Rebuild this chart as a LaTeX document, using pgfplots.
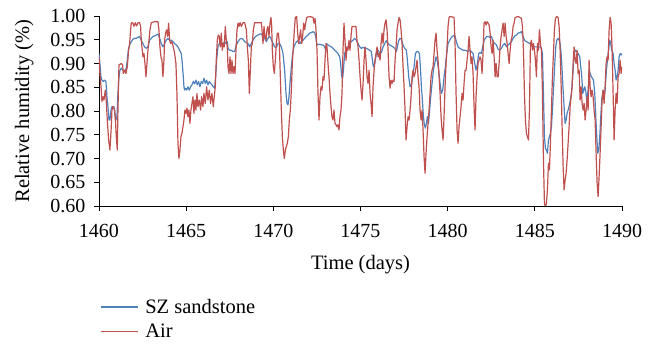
\documentclass[border=0pt]{standalone}
\usepackage{fontspec}
\setmainfont{Liberation Serif}
\usepackage{pgfplots}
\pgfplotsset{compat=1.18}
\usepackage{pgfplotstable}
\definecolor{szblue}{HTML}{4F81BD}
\definecolor{airred}{HTML}{C0504D}

\pgfplotstableread{
x y
1460.000 0.914
1460.036 0.886
1460.131 0.844
1460.169 0.820
1460.227 0.830
1460.284 0.823
1460.361 0.844
1460.418 0.820
1460.475 0.781
1460.552 0.739
1460.628 0.718
1460.705 0.767
1460.743 0.802
1460.800 0.809
1460.896 0.802
1460.953 0.774
1460.992 0.746
1461.049 0.718
1461.087 0.802
1461.145 0.897
1461.278 0.900
1461.355 0.897
1461.393 0.879
1461.470 0.886
1461.546 0.879
1461.623 0.893
1461.699 0.928
1461.756 0.942
1461.814 0.971
1461.852 0.985
1461.890 0.986
1461.948 0.985
1462.005 0.978
1462.081 0.986
1462.158 0.979
1462.234 0.986
1462.330 0.986
1462.387 0.978
1462.426 0.949
1462.483 0.928
1462.521 0.914
1462.579 0.921
1462.636 0.900
1462.693 0.872
1462.751 0.900
1462.808 0.928
1462.865 0.949
1462.923 0.971
1462.999 0.986
1463.190 0.988
1463.382 0.988
1463.439 0.971
1463.496 0.935
1463.554 0.914
1463.611 0.907
1463.668 0.872
1463.726 0.907
1463.764 0.949
1463.821 0.964
1463.879 0.971
1463.936 0.957
1463.993 0.985
1464.051 0.949
1464.108 0.942
1464.185 0.946
1464.261 0.935
1464.338 0.921
1464.414 0.900
1464.471 0.837
1464.529 0.732
1464.586 0.700
1464.644 0.718
1464.701 0.746
1464.758 0.753
1464.816 0.767
1464.873 0.781
1464.930 0.802
1464.988 0.795
1465.045 0.806
1465.102 0.788
1465.160 0.802
1465.217 0.774
1465.274 0.802
1465.332 0.816
1465.389 0.830
1465.447 0.795
1465.504 0.823
1465.561 0.802
1465.619 0.837
1465.676 0.809
1465.752 0.823
1465.829 0.802
1465.886 0.830
1465.963 0.809
1466.020 0.837
1466.097 0.816
1466.173 0.851
1466.250 0.823
1466.326 0.844
1466.403 0.816
1466.479 0.837
1466.556 0.809
1466.613 0.830
1466.670 0.851
1466.728 0.907
1466.785 0.949
1466.842 0.960
1466.900 0.957
1466.957 0.935
1467.014 0.964
1467.072 0.928
1467.129 0.942
1467.186 0.935
1467.244 0.978
1467.301 0.949
1467.359 0.935
1467.400 0.893
1467.457 0.879
1467.515 0.914
1467.572 0.879
1467.629 0.907
1467.687 0.879
1467.744 0.893
1467.802 0.879
1467.859 0.928
1467.916 0.971
1467.974 0.985
1468.031 0.978
1468.088 0.986
1468.165 0.978
1468.260 0.986
1468.356 0.986
1468.452 0.971
1468.509 0.935
1468.566 0.907
1468.624 0.837
1468.681 0.886
1468.738 0.935
1468.796 0.942
1468.853 0.971
1468.930 0.986
1469.121 0.986
1469.312 0.986
1469.350 0.971
1469.408 0.942
1469.465 0.978
1469.522 0.957
1469.580 0.949
1469.637 0.971
1469.694 0.978
1469.752 0.957
1469.809 0.985
1469.866 0.997
1469.905 0.978
1469.943 0.928
1470.000 0.893
1470.058 0.879
1470.115 0.907
1470.172 0.942
1470.230 0.964
1470.287 0.964
1470.345 0.942
1470.402 0.872
1470.459 0.802
1470.517 0.746
1470.574 0.718
1470.631 0.700
1470.689 0.718
1470.746 0.725
1470.803 0.732
1470.861 0.746
1470.918 0.781
1470.975 0.802
1471.033 0.844
1471.090 0.900
1471.148 0.935
1471.205 0.971
1471.262 0.997
1471.339 0.999
1471.396 0.964
1471.453 0.942
1471.511 0.957
1471.568 0.971
1471.626 0.942
1471.683 0.957
1471.740 0.985
1471.798 0.971
1471.855 0.985
1471.912 0.997
1472.084 0.999
1472.276 0.997
1472.333 0.985
1472.390 0.995
1472.448 0.971
1472.505 0.928
1472.562 0.837
1472.620 0.781
1472.677 0.830
1472.734 0.851
1472.792 0.844
1472.849 0.872
1472.907 0.865
1472.964 0.907
1473.021 0.942
1473.079 0.935
1473.136 0.900
1473.193 0.872
1473.251 0.837
1473.308 0.809
1473.365 0.788
1473.423 0.781
1473.480 0.802
1473.538 0.774
1473.595 0.771
1473.652 0.767
1473.710 0.771
1473.767 0.760
1473.824 0.788
1473.882 0.802
1473.939 0.837
1473.996 0.928
1474.054 0.985
1474.111 0.949
1474.168 0.907
1474.226 0.935
1474.283 0.928
1474.341 0.949
1474.398 0.928
1474.455 0.957
1474.513 0.978
1474.666 0.978
1474.742 0.978
1474.799 0.949
1474.860 0.935
1474.917 0.907
1474.975 0.872
1475.032 0.844
1475.089 0.823
1475.147 0.858
1475.204 0.907
1475.262 0.935
1475.319 0.907
1475.376 0.872
1475.434 0.858
1475.491 0.886
1475.548 0.837
1475.606 0.816
1475.663 0.788
1475.720 0.851
1475.778 0.886
1475.835 0.907
1475.893 0.921
1475.950 0.935
1476.007 0.914
1476.065 0.921
1476.122 0.907
1476.179 0.942
1476.237 0.964
1476.294 0.942
1476.351 0.971
1476.409 0.985
1476.466 0.992
1476.523 0.971
1476.581 0.928
1476.638 0.872
1476.696 0.848
1476.753 0.865
1476.810 0.858
1476.868 0.865
1476.925 0.862
1476.982 0.907
1477.040 0.935
1477.097 0.971
1477.154 0.985
1477.212 0.997
1477.269 0.992
1477.326 0.971
1477.384 0.942
1477.441 0.893
1477.499 0.851
1477.556 0.802
1477.613 0.739
1477.671 0.767
1477.728 0.788
1477.785 0.781
1477.843 0.802
1477.900 0.830
1477.957 0.872
1478.015 0.886
1478.072 0.872
1478.130 0.879
1478.187 0.893
1478.244 0.907
1478.302 0.872
1478.359 0.851
1478.416 0.802
1478.474 0.781
1478.531 0.802
1478.588 0.760
1478.646 0.704
1478.703 0.669
1478.760 0.711
1478.818 0.746
1478.875 0.774
1478.933 0.802
1478.990 0.837
1479.047 0.872
1479.105 0.886
1479.162 0.893
1479.219 0.921
1479.277 0.949
1479.334 0.964
1479.391 0.928
1479.449 0.907
1479.506 0.872
1479.564 0.837
1479.621 0.788
1479.678 0.760
1479.736 0.739
1479.793 0.788
1479.850 0.851
1479.908 0.900
1479.965 0.935
1480.022 0.978
1480.080 0.997
1480.137 0.999
1480.367 0.997
1480.424 0.942
1480.481 0.837
1480.539 0.760
1480.596 0.732
1480.653 0.767
1480.711 0.788
1480.768 0.809
1480.825 0.837
1480.883 0.823
1480.940 0.858
1480.998 0.886
1481.055 0.886
1481.112 0.907
1481.170 0.928
1481.227 0.957
1481.284 0.928
1481.342 0.900
1481.399 0.914
1481.456 0.879
1481.514 0.809
1481.571 0.760
1481.628 0.830
1481.686 0.872
1481.743 0.900
1481.801 0.907
1481.858 0.914
1481.915 0.907
1481.973 0.879
1482.030 0.921
1482.087 0.985
1482.145 0.988
1482.202 0.981
1482.259 0.988
1482.320 0.985
1482.377 0.981
1482.435 0.964
1482.492 0.935
1482.549 0.921
1482.607 0.949
1482.664 0.914
1482.722 0.872
1482.779 0.900
1482.836 0.872
1482.894 0.872
1482.951 0.900
1483.008 0.935
1483.066 0.957
1483.123 0.971
1483.180 0.985
1483.238 0.957
1483.295 0.985
1483.353 0.957
1483.410 0.942
1483.467 0.921
1483.525 0.900
1483.582 0.928
1483.639 0.949
1483.697 0.957
1483.754 0.978
1483.811 0.985
1483.869 0.997
1484.041 0.999
1484.232 0.995
1484.289 0.978
1484.347 0.928
1484.404 0.837
1484.461 0.781
1484.519 0.753
1484.576 0.746
1484.634 0.739
1484.691 0.802
1484.748 0.942
1484.806 0.949
1484.863 0.928
1484.920 0.942
1484.978 0.928
1485.035 0.907
1485.092 0.872
1485.150 0.942
1485.207 0.928
1485.265 0.971
1485.322 0.942
1485.379 0.928
1485.437 0.837
1485.494 0.697
1485.551 0.606
1485.609 0.598
1485.666 0.606
1485.723 0.634
1485.781 0.690
1485.838 0.676
1485.895 0.732
1485.953 0.802
1486.010 0.872
1486.068 0.921
1486.125 0.971
1486.182 0.995
1486.259 0.999
1486.335 0.997
1486.393 0.978
1486.450 0.928
1486.507 0.858
1486.565 0.767
1486.622 0.683
1486.679 0.634
1486.737 0.655
1486.794 0.669
1486.851 0.697
1486.909 0.732
1486.966 0.767
1487.024 0.809
1487.081 0.830
1487.138 0.851
1487.196 0.900
1487.253 0.935
1487.310 0.907
1487.368 0.900
1487.425 0.928
1487.482 0.879
1487.540 0.886
1487.597 0.823
1487.654 0.851
1487.712 0.816
1487.769 0.802
1487.827 0.816
1487.884 0.781
1487.941 0.802
1487.999 0.830
1488.056 0.802
1488.113 0.907
1488.171 0.851
1488.228 0.830
1488.285 0.844
1488.343 0.830
1488.400 0.802
1488.458 0.781
1488.515 0.711
1488.572 0.648
1488.630 0.620
1488.687 0.662
1488.744 0.711
1488.802 0.767
1488.859 0.823
1488.916 0.844
1488.974 0.816
1489.031 0.851
1489.088 0.900
1489.146 0.914
1489.203 0.907
1489.261 0.971
1489.318 0.997
1489.375 0.985
1489.433 0.928
1489.490 0.837
1489.547 0.739
1489.605 0.802
1489.662 0.837
1489.719 0.816
1489.777 0.872
1489.834 0.879
1489.891 0.907
1489.949 0.879
1490.000 0.893
}\airdata

\pgfplotstableread{
x y
1460.000 0.921
1460.036 0.907
1460.112 0.872
1460.169 0.865
1460.246 0.862
1460.322 0.865
1460.399 0.862
1460.456 0.830
1460.514 0.809
1460.571 0.781
1460.628 0.781
1460.686 0.802
1460.743 0.809
1460.858 0.809
1460.915 0.795
1460.973 0.781
1461.030 0.788
1461.087 0.837
1461.145 0.872
1461.202 0.886
1461.278 0.890
1461.374 0.886
1461.470 0.883
1461.565 0.890
1461.623 0.907
1461.680 0.928
1461.756 0.939
1461.852 0.946
1461.948 0.951
1462.043 0.953
1462.139 0.953
1462.234 0.955
1462.330 0.957
1462.426 0.949
1462.521 0.942
1462.617 0.935
1462.712 0.932
1462.808 0.935
1462.904 0.949
1462.999 0.953
1463.095 0.957
1463.190 0.958
1463.286 0.960
1463.382 0.962
1463.477 0.953
1463.573 0.942
1463.668 0.935
1463.764 0.942
1463.860 0.949
1463.955 0.953
1464.051 0.949
1464.146 0.949
1464.242 0.946
1464.338 0.942
1464.433 0.939
1464.529 0.935
1464.624 0.928
1464.720 0.921
1464.777 0.900
1464.835 0.872
1464.873 0.851
1464.911 0.844
1464.969 0.848
1465.026 0.844
1465.102 0.851
1465.179 0.844
1465.255 0.851
1465.332 0.855
1465.408 0.862
1465.485 0.857
1465.561 0.865
1465.638 0.855
1465.714 0.862
1465.791 0.851
1465.867 0.862
1465.944 0.858
1466.020 0.869
1466.097 0.858
1466.173 0.865
1466.250 0.855
1466.326 0.862
1466.403 0.858
1466.479 0.855
1466.556 0.851
1466.632 0.848
1466.689 0.872
1466.747 0.907
1466.823 0.935
1466.900 0.942
1466.976 0.946
1467.053 0.942
1467.129 0.942
1467.206 0.946
1467.282 0.942
1467.359 0.946
1467.400 0.932
1467.496 0.928
1467.591 0.928
1467.687 0.925
1467.782 0.925
1467.878 0.939
1467.974 0.946
1468.069 0.951
1468.165 0.953
1468.260 0.951
1468.356 0.946
1468.452 0.944
1468.547 0.942
1468.643 0.935
1468.738 0.942
1468.834 0.949
1468.930 0.955
1469.025 0.958
1469.121 0.960
1469.216 0.962
1469.312 0.962
1469.408 0.957
1469.503 0.953
1469.599 0.946
1469.694 0.953
1469.790 0.957
1469.886 0.951
1469.981 0.942
1470.077 0.935
1470.172 0.934
1470.268 0.942
1470.364 0.942
1470.459 0.935
1470.555 0.921
1470.650 0.886
1470.727 0.837
1470.784 0.816
1470.842 0.813
1470.899 0.830
1470.956 0.858
1471.033 0.893
1471.109 0.921
1471.186 0.935
1471.262 0.942
1471.339 0.946
1471.415 0.948
1471.511 0.942
1471.606 0.946
1471.702 0.949
1471.798 0.953
1471.893 0.957
1471.989 0.960
1472.084 0.964
1472.180 0.965
1472.276 0.967
1472.371 0.965
1472.429 0.957
1472.486 0.942
1472.562 0.939
1472.658 0.941
1472.754 0.939
1472.849 0.939
1472.945 0.935
1473.002 0.928
1473.060 0.942
1473.136 0.939
1473.232 0.937
1473.327 0.935
1473.423 0.932
1473.518 0.928
1473.614 0.925
1473.710 0.921
1473.805 0.914
1473.863 0.900
1473.920 0.872
1473.977 0.869
1474.035 0.893
1474.092 0.921
1474.188 0.932
1474.283 0.935
1474.379 0.942
1474.474 0.946
1474.570 0.949
1474.666 0.953
1474.761 0.949
1474.860 0.942
1474.956 0.935
1475.051 0.932
1475.147 0.934
1475.242 0.932
1475.338 0.932
1475.434 0.930
1475.529 0.928
1475.625 0.925
1475.682 0.907
1475.740 0.893
1475.816 0.900
1475.912 0.921
1476.007 0.928
1476.103 0.921
1476.198 0.923
1476.294 0.935
1476.390 0.942
1476.485 0.948
1476.581 0.942
1476.676 0.939
1476.772 0.937
1476.868 0.935
1476.963 0.932
1477.059 0.925
1477.116 0.935
1477.174 0.946
1477.250 0.953
1477.346 0.951
1477.441 0.939
1477.537 0.932
1477.632 0.928
1477.690 0.907
1477.766 0.872
1477.843 0.851
1477.919 0.855
1477.996 0.872
1478.072 0.893
1478.149 0.921
1478.225 0.925
1478.302 0.925
1478.378 0.921
1478.435 0.893
1478.493 0.851
1478.550 0.823
1478.608 0.788
1478.665 0.771
1478.722 0.764
1478.780 0.774
1478.837 0.788
1478.894 0.774
1478.952 0.795
1479.028 0.830
1479.105 0.858
1479.181 0.886
1479.258 0.900
1479.334 0.914
1479.411 0.904
1479.487 0.886
1479.564 0.858
1479.640 0.837
1479.716 0.844
1479.793 0.872
1479.869 0.893
1479.946 0.921
1480.022 0.942
1480.118 0.949
1480.214 0.955
1480.309 0.958
1480.405 0.959
1480.500 0.946
1480.596 0.935
1480.692 0.932
1480.787 0.930
1480.883 0.928
1480.978 0.928
1481.074 0.927
1481.170 0.925
1481.265 0.928
1481.361 0.925
1481.456 0.921
1481.552 0.900
1481.628 0.886
1481.705 0.900
1481.781 0.921
1481.858 0.923
1481.934 0.921
1482.011 0.935
1482.087 0.949
1482.164 0.953
1482.240 0.957
1482.320 0.957
1482.416 0.955
1482.511 0.957
1482.607 0.946
1482.702 0.942
1482.798 0.939
1482.894 0.930
1482.989 0.928
1483.085 0.932
1483.180 0.939
1483.276 0.942
1483.372 0.935
1483.467 0.939
1483.563 0.942
1483.658 0.946
1483.754 0.953
1483.850 0.958
1483.945 0.960
1484.041 0.964
1484.136 0.965
1484.232 0.967
1484.328 0.957
1484.423 0.948
1484.519 0.946
1484.614 0.944
1484.710 0.942
1484.806 0.939
1484.901 0.937
1484.997 0.935
1485.188 0.935
1485.284 0.935
1485.379 0.932
1485.437 0.921
1485.494 0.837
1485.551 0.746
1485.609 0.721
1485.666 0.718
1485.723 0.711
1485.781 0.739
1485.838 0.746
1485.895 0.753
1485.953 0.767
1486.010 0.802
1486.068 0.844
1486.144 0.900
1486.201 0.935
1486.259 0.949
1486.335 0.953
1486.393 0.949
1486.450 0.942
1486.507 0.921
1486.565 0.886
1486.622 0.844
1486.679 0.809
1486.737 0.774
1486.794 0.781
1486.851 0.795
1486.909 0.802
1487.004 0.816
1487.100 0.837
1487.196 0.886
1487.253 0.921
1487.329 0.928
1487.406 0.925
1487.482 0.921
1487.578 0.914
1487.635 0.893
1487.693 0.872
1487.750 0.837
1487.807 0.844
1487.865 0.851
1487.922 0.841
1487.980 0.823
1488.056 0.844
1488.113 0.886
1488.171 0.879
1488.247 0.872
1488.305 0.869
1488.362 0.865
1488.438 0.837
1488.496 0.788
1488.553 0.746
1488.610 0.711
1488.668 0.718
1488.725 0.746
1488.782 0.788
1488.840 0.823
1488.916 0.844
1488.974 0.830
1489.031 0.844
1489.107 0.886
1489.203 0.921
1489.299 0.949
1489.356 0.942
1489.413 0.928
1489.490 0.921
1489.547 0.900
1489.605 0.886
1489.662 0.865
1489.719 0.872
1489.777 0.886
1489.834 0.914
1489.891 0.921
1489.968 0.918
1490.000 0.921
}\szdata

\begin{document}
\begin{tikzpicture}
\path[use as bounding box] (-99pt,-139pt) rectangle (558pt,206pt);
\begin{axis}[
  at={(0pt,0pt)}, anchor=south west,
  scale only axis,
  width=523pt, height=190pt,
  xmin=1460, xmax=1490, ymin=0.6, ymax=1.0,
  xtick={1460,1465,...,1490},
  ytick={0.6,0.65,...,1.0},
  axis lines=left,
  axis line style={-, line width=0.9pt},
  every tick/.style={black, line width=0.9pt},
  tick align=outside,
  major tick length=5pt,
  xticklabel shift=10pt,
  yticklabel shift=5pt,
  /pgf/number format/assume math mode=true,
  x tick label style={/pgf/number format/1000 sep={}},
  y tick label style={/pgf/number format/.cd, fixed, fixed zerofill, precision=2},
  tick label style={font=\fontsize{20}{24}\selectfont},
  label style={font=\fontsize{20.5}{24}\selectfont},
  xlabel={Time (days)},
  xlabel style={yshift=-10pt},
  ylabel={Relative humidity (\%)},
  ylabel style={yshift=10pt},
  legend style={draw=none, fill=none, at={(-0.004,-0.46)}, anchor=north west,
    font=\fontsize{20.5}{24}\selectfont, legend cell align=left,
    row sep=2pt, column sep=5pt, nodes={inner ysep=3.5pt}},
  legend image code/.code={\draw[#1] (0pt,0pt) -- (37pt,0pt);},
  clip=true,
]
\addplot[draw=szblue, line width=1.2pt, line join=round] table[x=x,y=y] {\szdata};
\addlegendentry{SZ sandstone}
\addplot[draw=airred, line width=1.2pt, line join=round] table[x=x,y=y] {\airdata};
\addlegendentry{Air}
\end{axis}
\end{tikzpicture}
\end{document}
